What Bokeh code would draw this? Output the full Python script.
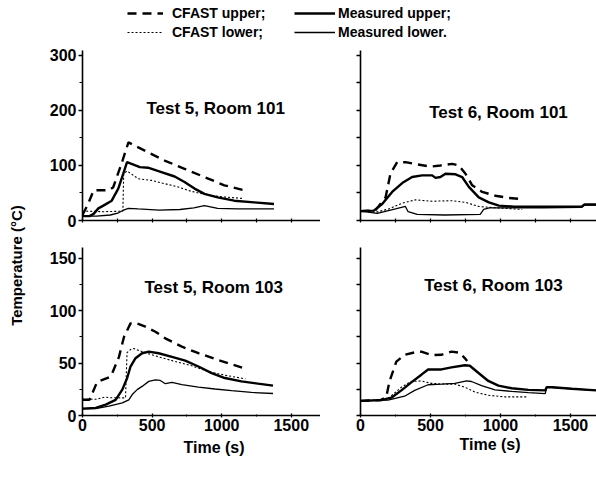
import math
from bokeh.plotting import figure
from bokeh.models import Range1d, FixedTicker, Label, Legend, LegendItem, Title
from bokeh.layouts import row, column
from bokeh.embed import file_html
from bokeh.resources import INLINE

FONT = "Liberation Sans"

# ---------------- data (time s, temperature °C) ----------------
# Test 5, Room 101
t5r101_cfu_t = [0, 40, 80, 190, 220, 280, 330, 376, 471, 590, 733, 876, 1019, 1160]
t5r101_cfu_T = [10, 30, 55, 55, 60, 103, 142, 136, 124, 109, 94, 79, 64, 55]
t5r101_cfl_t = [0, 30, 150, 290, 296, 320, 400, 495, 590, 686, 781, 888, 1000, 1160]
t5r101_cfl_T = [14, 17, 16, 17, 85, 90, 76, 73, 67, 61, 53, 47, 43, 40]
t5r101_mu_t = [0, 50, 80, 114, 150, 210, 257, 293, 320, 352, 412, 471, 567, 662, 733, 805, 876, 971, 1090, 1233, 1376]
t5r101_mu_T = [8, 8, 12, 22, 27, 36, 58, 85, 106, 103, 97, 96, 88, 80, 70, 58, 48.5, 42, 36, 33, 30]
t5r101_ml_t = [0, 100, 200, 260, 295, 330, 400, 550, 700, 800, 876, 971, 1114, 1376]
t5r101_ml_T = [8, 8, 10, 14, 19, 22, 21, 19, 20, 23, 27, 22, 21, 21]

# Test 6, Room 101
t6r101_cfu_t = [0, 105, 179, 214, 262, 321, 405, 500, 571, 655, 702, 750, 798, 869, 964, 1060, 1145]
t6r101_cfu_T = [17, 18, 42, 85, 106, 106, 102, 98, 100, 103, 100, 85, 64, 52, 45, 41, 39]
t6r101_cfl_t = [0, 110, 202, 298, 393, 512, 655, 750, 845, 917, 1155]
t6r101_cfl_T = [17, 15, 21, 31.5, 37.5, 35, 36, 33, 25.5, 24, 20]
t6r101_mu_t = [0, 95, 155, 226, 298, 369, 440, 512, 536, 571, 607, 679, 726, 774, 845, 917, 988, 1100, 1300, 1580, 1600, 1686]
t6r101_mu_T = [17, 18, 30, 52, 68, 79, 82, 82, 77.5, 79, 85, 84, 79, 61, 42, 33, 27, 25, 25, 25, 29, 29]
t6r101_ml_t = [0, 120, 250, 321, 340, 405, 600, 855, 880, 920, 1000, 1300, 1580, 1600, 1686]
t6r101_ml_T = [17, 13, 21, 25.5, 16, 11, 10, 11, 20, 23, 23, 23, 24, 28, 28]

# Test 5, Room 103
t5r103_cfu_t = [0, 50, 60, 105, 200, 214, 262, 298, 345, 381, 452, 524, 595, 714, 833, 976, 1150]
t5r103_cfu_T = [15, 15, 18, 32, 37, 40.5, 56, 75, 88, 88.6, 84.8, 80, 73.7, 65.8, 59.5, 53, 45.5]
t5r103_cfl_t = [0, 100, 160, 200, 309, 320, 345, 369, 428, 547, 666, 785, 904, 1023, 1170]
t5r103_cfl_T = [15.5, 15.5, 17.5, 17, 16.8, 60, 63, 64, 61, 56, 51.6, 47.5, 42, 38.5, 35]
t5r103_mu_t = [0, 95, 167, 238, 286, 321, 345, 381, 428, 476, 547, 643, 738, 833, 928, 1023, 1142, 1261, 1369]
t5r103_mu_T = [6.6, 7.3, 10.4, 15, 24.7, 35.8, 46.8, 54.7, 59.5, 61, 59.5, 56, 52.5, 46.8, 40.5, 35.8, 32.6, 30.4, 28.5]
t5r103_ml_t = [0, 95, 190, 286, 333, 357, 393, 428, 476, 524, 559, 595, 643, 714, 833, 952, 1071, 1214, 1369]
t5r103_ml_T = [6.3, 6.6, 8.9, 12, 15, 20, 24.7, 27.8, 32.6, 34, 33.5, 30.4, 31.6, 29.4, 27.2, 25.3, 23.7, 22, 21]

# Test 6, Room 103
t6r103_cfu_t = [0, 148, 184, 208, 256, 315, 399, 435, 507, 578, 650, 710, 746, 762]
t6r103_cfu_T = [14, 14.7, 17.8, 33, 51.5, 58, 60.7, 61, 57.7, 58, 61, 60, 54.6, 52]
t6r103_cfl_t = [0, 196, 292, 363, 435, 507, 602, 674, 746, 817, 913, 1032, 1190]
t6r103_cfl_T = [14, 16, 27, 32.5, 33, 30.7, 30, 30, 27, 22.4, 19.3, 17.8, 17.8]
t6r103_mu_t = [0, 148, 220, 292, 363, 435, 483, 578, 650, 746, 781, 841, 913, 985, 1080, 1200, 1320, 1330, 1367, 1510, 1686]
t6r103_mu_T = [14, 14.7, 17, 24, 31.6, 39, 44, 44, 46, 48, 47.5, 40.8, 33, 28.5, 26, 24.5, 24, 27, 27, 25.5, 24]
t6r103_ml_t = [0, 196, 315, 387, 483, 578, 674, 758, 793, 865, 961, 1080, 1200, 1320, 1330, 1367, 1510, 1686]
t6r103_ml_T = [14, 14.7, 18.4, 24, 29.4, 30, 30.7, 33, 32.5, 28.5, 24.5, 23, 21.8, 20.9, 27, 27, 25.5, 24]

titles = ["Test 5, Room 101", "Test 6, Room 101", "Test 5, Room 103", "Test 6, Room 103"]
legend_labels = ["CFAST upper;", "CFAST lower;", "Measured upper;", "Measured lower."]
x_ticks = [0, 500, 1000, 1500]
x_minor = [250, 750, 1250]
x_all = [0, 250, 500, 750, 1000, 1250, 1500]
y_ticks_top = [0, 100, 200, 300]
y_minor_top = [50, 150, 250]
y_all_top = [0, 50, 100, 150, 200, 250, 300]
y_ticks_bot = [0, 50, 100, 150]
y_minor_bot = [25, 75, 125]
y_all_bot = [0, 25, 50, 75, 100, 125, 150]

STY = {
    "cfu": dict(line_width=2.4, line_dash="9 6", line_color="black"),
    "cfl": dict(line_width=1.1, line_dash="2 2", line_color="black"),
    "mu": dict(line_width=2.4, line_color="black"),
    "ml": dict(line_width=1.3, line_color="black"),
}


def panel(width, height, mbl, mbt, mbb, xmax, ymax, yt, ym, yall, xlab, ylab):
    p = figure(width=width, height=height, output_backend="svg", toolbar_location=None,
               x_range=Range1d(0, xmax), y_range=Range1d(0, ymax),
               min_border_left=mbl, min_border_right=0, min_border_top=mbt,
               min_border_bottom=mbb)
    p.grid.visible = False
    p.outline_line_color = None
    for ax in (p.xaxis[0], p.yaxis[0]):
        ax.axis_line_width = 1.6
        ax.axis_line_color = "black"
        ax.major_tick_line_color = "black"
        ax.minor_tick_line_color = "black"
        ax.major_tick_line_width = 1.3
        ax.minor_tick_line_width = 1.0
        ax.major_label_text_font = FONT
        ax.major_label_text_font_style = "bold"
        ax.major_label_text_font_size = "16px"
        ax.major_label_text_color = "black"
    # ticks without labels are drawn as minor ticks
    if xlab:
        p.xaxis.ticker = FixedTicker(ticks=x_ticks, minor_ticks=x_minor)
        p.xaxis.minor_tick_in = 1
        p.xaxis.minor_tick_out = 1
    else:
        p.xaxis.ticker = FixedTicker(ticks=[], minor_ticks=x_all)
        p.xaxis.minor_tick_in = 2
        p.xaxis.minor_tick_out = 2
        p.xaxis.minor_tick_line_width = 1.2
    p.xaxis.major_tick_in = 2
    p.xaxis.major_tick_out = 2
    p.xaxis.major_label_standoff = 1
    if ylab:
        p.yaxis.ticker = FixedTicker(ticks=yt, minor_ticks=ym)
        p.yaxis.minor_tick_out = 3
    else:
        p.yaxis.ticker = FixedTicker(ticks=[], minor_ticks=yall)
        p.yaxis.minor_tick_out = 4
        p.yaxis.minor_tick_line_width = 1.3
    p.yaxis.major_tick_in = 0
    p.yaxis.major_tick_out = 4
    p.yaxis.minor_tick_in = 0
    p.yaxis.major_label_standoff = 2
    return p


def txt(x, y, text, size, angle=0.0):
    return Label(x=x, y=y, text=text, angle=angle, text_font=FONT, text_font_size=size,
                 text_font_style="bold", text_align="center", text_baseline="middle",
                 text_color="black")


def draw(p, series, title, tx, ty):
    for key, (tt, TT) in series.items():
        p.line(tt, TT, **STY[key])
    p.add_layout(txt(tx, ty, title, "17px"))


LW = 290   # left panel figure width (frame 82..320)
RW = 276   # right panel figure width (frame 360..596)
H1 = 184   # y 48..232, frame 50..220
H2 = 246   # y 232..478, frame 247..415

p1 = panel(LW, H1, 52, 2, 12, 1710, 309, y_ticks_top, y_minor_top, y_all_top, False, True)
p2 = panel(RW, H1, 40, 2, 12, 1686, 309, y_ticks_top, y_minor_top, y_all_top, False, False)
p3 = panel(LW, H2, 52, 15, 63, 1710, 160.5, y_ticks_bot, y_minor_bot, y_all_bot, True, True)
p4 = panel(RW, H2, 40, 15, 63, 1686, 160.5, y_ticks_bot, y_minor_bot, y_all_bot, True, False)

draw(p1, {"cfu": (t5r101_cfu_t, t5r101_cfu_T), "cfl": (t5r101_cfl_t, t5r101_cfl_T),
          "mu": (t5r101_mu_t, t5r101_mu_T), "ml": (t5r101_ml_t, t5r101_ml_T)}, titles[0], 957, 204)
draw(p2, {"cfu": (t6r101_cfu_t, t6r101_cfu_T), "cfl": (t6r101_cfl_t, t6r101_cfl_T),
          "mu": (t6r101_mu_t, t6r101_mu_T), "ml": (t6r101_ml_t, t6r101_ml_T)}, titles[1], 986, 196)
draw(p3, {"cfu": (t5r103_cfu_t, t5r103_cfu_T), "cfl": (t5r103_cfl_t, t5r103_cfl_T),
          "mu": (t5r103_mu_t, t5r103_mu_T), "ml": (t5r103_ml_t, t5r103_ml_T)}, titles[2], 943, 122)
draw(p4, {"cfu": (t6r103_cfu_t, t6r103_cfu_T), "cfl": (t6r103_cfl_t, t6r103_cfl_T),
          "mu": (t6r103_mu_t, t6r103_mu_T), "ml": (t6r103_ml_t, t6r103_ml_T)}, titles[3], 950, 124)

# x-axis titles below each bottom frame
p3.add_layout(Title(text="Time (s)", align="left", offset=101, standoff=6,
                    text_font=FONT, text_font_size="16px", text_font_style="bold",
                    text_color="black"), "below")
p4.add_layout(Title(text="Time (s)", align="left", offset=99, standoff=0,
                    text_font=FONT, text_font_size="16px", text_font_style="bold",
                    text_color="black"), "below")


def strip(w, h):
    s = figure(width=w, height=h, output_backend="svg", toolbar_location=None,
               x_range=Range1d(0, w), y_range=Range1d(0, h),
               x_axis_location=None, y_axis_location=None,
               min_border=0, min_border_left=0, min_border_right=0,
               min_border_top=0, min_border_bottom=0)
    s.grid.visible = False
    s.outline_line_color = None
    return s


# top legend strip
top = strip(596, 48)
rs = {k: top.line([-100, -50], [-100, -100], **STY[k]) for k in ["cfu", "cfl", "mu", "ml"]}
leg_kw = dict(border_line_color=None, background_fill_alpha=0, padding=0, margin=0,
              spacing=3, label_height=16, glyph_height=16,
              label_text_font=FONT, label_text_font_style="bold",
              label_text_font_size="14px", label_text_color="black")
leg1 = Legend(items=[LegendItem(label=legend_labels[0], renderers=[rs["cfu"]]),
                     LegendItem(label=legend_labels[1], renderers=[rs["cfl"]])],
              location=(127, 8), glyph_width=36, label_standoff=9, **leg_kw)
leg2 = Legend(items=[LegendItem(label=legend_labels[2], renderers=[rs["mu"]]),
                     LegendItem(label=legend_labels[3], renderers=[rs["ml"]])],
              location=(294, 8), glyph_width=41, label_standoff=3, **leg_kw)
top.add_layout(leg1, "center")
top.add_layout(leg2, "center")

# left strip with y label
left = strip(30, H1 + H2)
left.add_layout(txt(16, 213, "Temperature (°C)", "15px", math.pi / 2))

layout = column(top, row(left, column(row(p1, p2), row(p3, p4))))

open("out.html", "w").write(file_html(layout, INLINE))
